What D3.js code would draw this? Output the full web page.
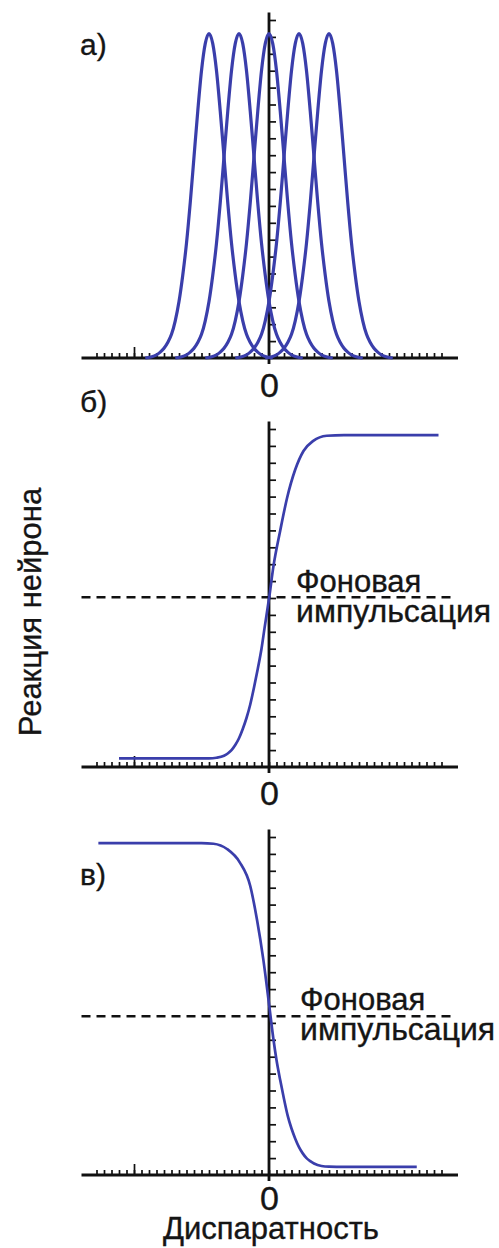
<!DOCTYPE html>
<html>
<head>
<meta charset="utf-8">
<script src="https://cdn.jsdelivr.net/npm/d3@7"></script>
<style>
  html, body { margin: 0; padding: 0; background: #fff; }
  svg { display: block; }
  text { font-family: "Liberation Sans", Arial, Helvetica, sans-serif; fill: #151515; stroke: #151515; stroke-width: 0.35px; }
</style>
</head>
<body>
<svg id="chart" width="499" height="1248"></svg>
<script>
// ---------- DATA (units: x = disparity ticks, y = response ticks) ----------
const panelLabels = ["а)", "б)", "в)"];
const zeroLabel = "0";
const yAxisTitle = "Реакция нейрона";
const xAxisTitle = "Диспаратность";
const baselineText = ["Фоновая", "импульсация"];

const xMinorTicks = d3.range(-23, 24);   // minor tick positions
const xMajorTicks = [-18];               // the one longer tick
const yTicks = d3.range(1, 21);

// panel а: five tuning curves (same profile, shifted preferred disparity)
const tuningCenters = [-8, -4, 0, 4, 8];
const tuningOffsets  = [-8.5, -7, -6.5, -6, -5.5, -5, -4.5, -4, -3.5, -3, -2.5, -2, -1.5, -1, -0.5, 0,
                        0.5, 1, 1.5, 2, 2.5, 3, 3.5, 4, 4.5, 5, 5.5, 6, 6.5, 7, 8.5];
const tuningResponse = [0, 0.19, 0.35, 0.58, 0.92, 1.4, 2.2, 3.34, 4.9, 6.8, 9.2, 11.9, 14.6, 17.0, 18.6, 19.2,
                        18.6, 17.0, 14.6, 11.9, 9.2, 6.8, 4.9, 3.34, 2.2, 1.4, 0.92, 0.58, 0.35, 0.19, 0];

// panel б: "far"-type (rising) cell
const farX = [-20, -10, -8, -7, -6, -5.5, -5, -4.5, -4, -3.5, -3, -2.5, -2, -1.5, -1, -0.6, 0.04,
              0.6, 1.5, 2.4, 3.5, 4.6, 5.9, 7.7, 10, 22.6];
const farY = [0.51, 0.51, 0.51, 0.55, 0.67, 0.8, 1.0, 1.3, 1.7, 2.25, 2.9, 3.7, 4.7, 5.8, 7.0, 8.2, 10.08,
              11.9, 14.0, 15.9, 17.6, 18.7, 19.3, 19.6, 19.64, 19.64];

// panel в: "near"-type (falling) cell
const nearX = [-22.75, -10, -9, -7.4, -5.6, -3.9, -2.5, -1.6, -0.76, 0.04, 0.6, 1, 1.5, 2, 2.5, 3, 3.5,
               4, 4.5, 5, 5.5, 6, 7, 8, 10, 19.7];
const nearY = [19.64, 19.64, 19.64, 19.6, 19.29, 18.5, 17.1, 15.1, 12.76, 9.99, 8.0, 6.8, 5.6, 4.5, 3.5, 2.75, 2.15,
               1.65, 1.28, 1.0, 0.82, 0.68, 0.53, 0.49, 0.48, 0.48];

// spontaneous (background) firing levels
const backgroundLevel = [null, 10.04, 9.4];
const backgroundXRange = [-25, 24.4];

// ---------- LAYOUT ----------
const svg = d3.select("#chart");
const blue = "#3a3eab";
const x = d3.scaleLinear().domain([-25, 25]).range([81.5, 456.5]);
const xAxisExtent = [-25, 25.2];
const yTop = 20.45;
const panels = [
  { base: 358,  label: [80, 55],  zeroY: 397, text: null },
  { base: 767,  label: [80, 412], zeroY: 805, text: [296, 592, 622] },
  { base: 1175, label: [80, 885], zeroY: 1210, text: [300, 1010, 1040] }
];

panels.forEach((p, i) => {
  const y = d3.scaleLinear().domain([0, 20]).range([p.base, p.base - 338]);
  const g = svg.append("g");

  const line = d3.line().x(d => x(d[0])).y(d => y(d[1])).curve(d3.curveMonotoneX);
  let series = [];
  if (i === 0) {
    series = tuningCenters.map(c => tuningOffsets.map((o, k) => [c + o, tuningResponse[k]]));
  } else if (i === 1) {
    series = [farX.map((v, k) => [v, farY[k]])];
  } else {
    series = [nearX.map((v, k) => [v, nearY[k]])];
  }

  // x axis ticks (upward)
  const axMinor = d3.axisTop(x).tickValues(xMinorTicks).tickSize(5).tickFormat("");
  const axMajor = d3.axisTop(x).tickValues(xMajorTicks).tickSize(11).tickFormat("");
  [axMinor, axMajor].forEach(ax => {
    const t = g.append("g").attr("transform", `translate(0,${p.base})`).call(ax);
    t.select(".domain").remove();
    t.selectAll(".tick line").attr("stroke", "#111").attr("stroke-width", 1.7);
  });

  // y axis ticks (to the right)
  const ay = d3.axisRight(y).tickValues(yTicks).tickSize(7).tickFormat("");
  const ty = g.append("g").attr("transform", `translate(${x(0)},0)`).call(ay);
  ty.select(".domain").remove();
  ty.selectAll(".tick line").attr("stroke", "#111").attr("stroke-width", 1.7);

  // axis lines
  g.append("line")
    .attr("x1", x(xAxisExtent[0])).attr("x2", x(xAxisExtent[1]))
    .attr("y1", p.base).attr("y2", p.base)
    .attr("stroke", "#111").attr("stroke-width", 2.8);
  g.append("line")
    .attr("x1", x(0)).attr("x2", x(0))
    .attr("y1", y(yTop)).attr("y2", p.base + 6)
    .attr("stroke", "#111").attr("stroke-width", 2.8);

  // background dashed line
  if (backgroundLevel[i] !== null) {
    g.append("line")
      .attr("x1", x(backgroundXRange[0])).attr("x2", x(backgroundXRange[1]))
      .attr("y1", y(backgroundLevel[i])).attr("y2", y(backgroundLevel[i]))
      .attr("stroke", "#111").attr("stroke-width", 2.5)
      .attr("stroke-dasharray", "9,6");
  }

  g.selectAll("path.curve").data(series).enter().append("path")
    .attr("class", "curve")
    .attr("d", line)
    .attr("fill", "none")
    .attr("stroke", blue)
    .attr("stroke-width", i === 0 ? 3.2 : 2.7)
    .attr("stroke-linejoin", "round");

  // zero label via axis
  const az = d3.axisBottom(x).tickValues([0]).tickSize(0).tickPadding(0).tickFormat(() => zeroLabel);
  const tz = g.append("g").attr("transform", `translate(0,${p.zeroY})`).call(az);
  tz.select(".domain").remove();
  tz.selectAll("text").attr("dy", 0).attr("font-size", 34)
    .style("font-family", '"Liberation Sans", Arial, sans-serif')
    .attr("fill", "#151515").attr("stroke", "#151515").attr("stroke-width", 0.35);

  // panel label
  g.append("text").attr("x", p.label[0]).attr("y", p.label[1])
    .attr("font-size", 30).text(panelLabels[i]);

  // background text
  if (p.text) {
    g.append("text").attr("x", p.text[0]).attr("y", p.text[1]).attr("font-size", 31).text(baselineText[0]);
    g.append("text").attr("x", p.text[0]).attr("y", p.text[2]).attr("font-size", 32).text(baselineText[1]);
  }
});

// axis titles
svg.append("text")
  .attr("transform", "translate(41,612) rotate(-90)")
  .attr("text-anchor", "middle")
  .attr("font-size", 31)
  .text(yAxisTitle);
svg.append("text")
  .attr("x", 271).attr("y", 1239)
  .attr("text-anchor", "middle")
  .attr("font-size", 31)
  .text(xAxisTitle);
</script>
</body>
</html>
